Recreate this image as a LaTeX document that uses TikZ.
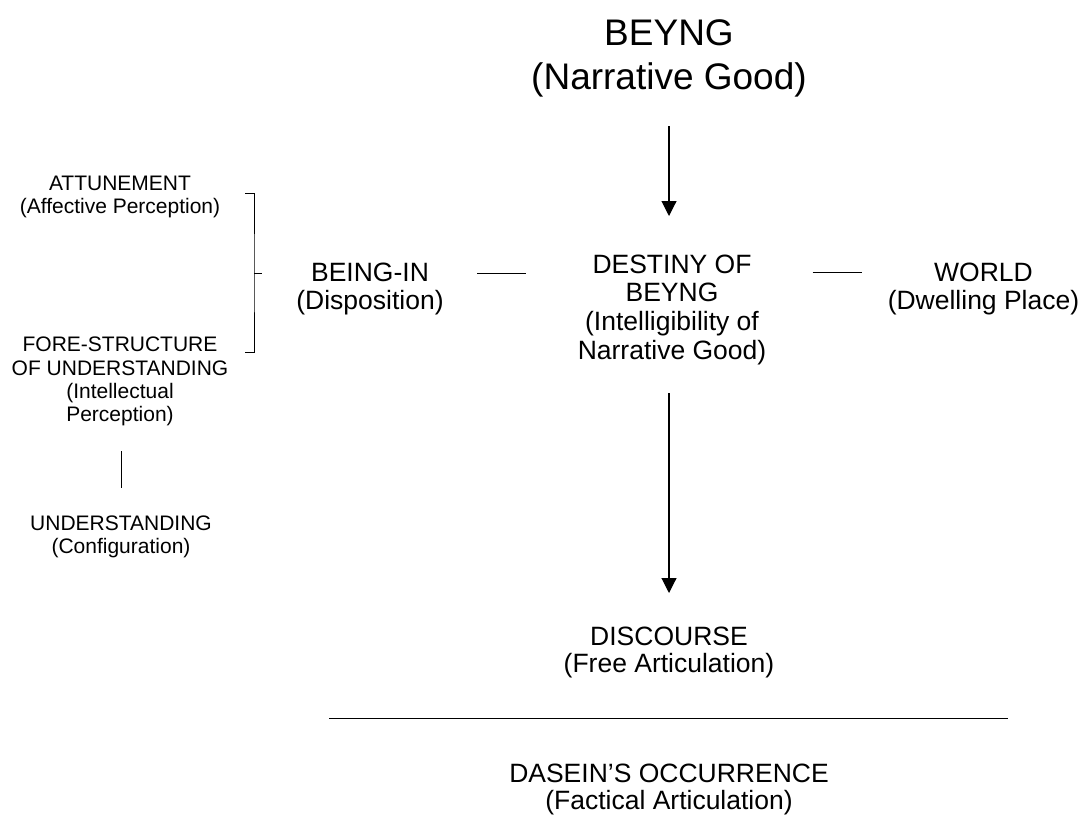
\documentclass[tikz,border=0pt]{standalone}
\usepackage{fontspec}
\setmainfont{Liberation Sans}
\usetikzlibrary{arrows.meta}

% every label is placed by the baseline of its last line
\tikzset{
  lbl/.style={inner sep=0pt, align=center, anchor=base},
  titletext/.style={lbl, font=\fontsize{37}{44}\selectfont},
  maintext/.style={lbl, font=\fontsize{26.5}{27.5}\selectfont},
  sidetext/.style={lbl, font=\fontsize{21}{23}\selectfont},
  link/.style={line width=1.1pt},
  flow/.style={line width=1.1pt, -{Triangle[width=15pt,length=15pt]}}
}

\begin{document}
\begin{tikzpicture}[x=1pt, y=-1pt]
  \useasboundingbox (0,0) rectangle (1083,819);

  % central column
  \node[titletext] (beyng) at (669,89.5) {BEYNG\\(Narrative Good)};
  \node[maintext, font=\fontsize{26.5}{28.6}\selectfont] (destiny) at (672,359)
        {DESTINY OF\\BEYNG\\(Intelligibility of\\Narrative Good)};
  \node[maintext, font=\fontsize{26.5}{26.5}\selectfont] (discourse) at (669,672) {DISCOURSE\\(Free Articulation)};
  \node[maintext, font=\fontsize{26.5}{27}\selectfont] (dasein) at (669,809)
        {DASEIN’S OCCURRENCE\\(Factical Articulation)};

  % side nodes of the middle row
  \node[maintext] (beingin) at (370,309) {BEING-IN\\(Disposition)};
  \node[maintext] (world) at (983.5,309) {WORLD\\(Dwelling Place)};

  % left column
  \node[sidetext] (attune) at (120,213.3) {ATTUNEMENT\\(Affective Perception)};
  \node[sidetext, font=\fontsize{21}{23.3}\selectfont] (fore) at (120,421.8)
        {FORE-STRUCTURE\\OF UNDERSTANDING\\(Intellectual\\Perception)};
  \node[sidetext] (underst) at (121,553) {UNDERSTANDING\\(Configuration)};

  % connector end points
  \coordinate (a1s) at (669,126);
  \coordinate (a1e) at (669,216);
  \coordinate (a2s) at (669,393);
  \coordinate (a2e) at (669,593);
  \coordinate (l1s) at (477,273.3);
  \coordinate (l1e) at (526,273.3);
  \coordinate (l2s) at (812.7,272.5);
  \coordinate (l2e) at (862,272.5);
  \coordinate (v1s) at (121.7,451);
  \coordinate (v1e) at (121.7,488.3);
  \coordinate (hs) at (329.3,718.3);
  \coordinate (he) at (1008.3,718.3);

  % arrows
  \draw[flow] (a1s) -- (a1e);
  \draw[flow] (a2s) -- (a2e);

  % short links
  \draw[link] (l1s) -- (l1e);
  \draw[link] (l2s) -- (l2e);
  \draw[link] (v1s) -- (v1e);

  % dividing rule
  \draw[link] (hs) -- (he);

  % bracket joining attunement and fore-structure
  \coordinate (bt) at (245,193.3);
  \coordinate (bb) at (245,352.7);
  \coordinate (bm) at (254,273.3);
  \coordinate (btip) at (262,273.3);
  \draw[link, line width=1pt] (bt) -| (bm) |- (bb);
  \draw[link, line width=1pt] (bm) -- (btip);
\end{tikzpicture}
\end{document}
